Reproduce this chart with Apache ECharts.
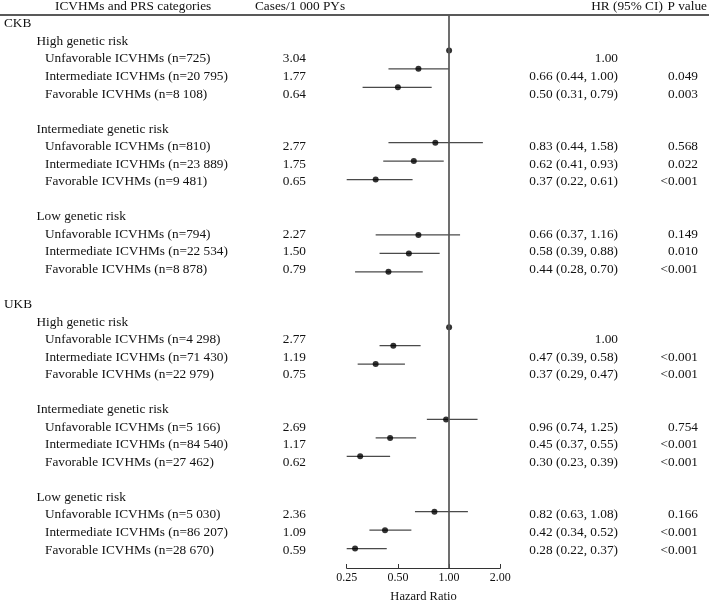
<!DOCTYPE html>
<html>
<head>
<meta charset="utf-8">
<script src="https://cdn.jsdelivr.net/npm/echarts@6/dist/echarts.min.js"></script>
<style>html,body{margin:0;padding:0;background:#fff}#c{width:709px;height:608px}</style>
</head>
<body>
<div id="c"></div>
<script>
const headers = ['ICVHMs and PRS categories', 'Cases/1 000 PYs', 'HR (95% CI)', 'P value'];
const cohorts = ['CKB', 'UKB'];
const riskGroups = ['High genetic risk', 'Intermediate genetic risk', 'Low genetic risk'];
const categories = [
  'Unfavorable ICVHMs (n=725)', 'Intermediate ICVHMs (n=20 795)', 'Favorable ICVHMs (n=8 108)',
  'Unfavorable ICVHMs (n=810)', 'Intermediate ICVHMs (n=23 889)', 'Favorable ICVHMs (n=9 481)',
  'Unfavorable ICVHMs (n=794)', 'Intermediate ICVHMs (n=22 534)', 'Favorable ICVHMs (n=8 878)',
  'Unfavorable ICVHMs (n=4 298)', 'Intermediate ICVHMs (n=71 430)', 'Favorable ICVHMs (n=22 979)',
  'Unfavorable ICVHMs (n=5 166)', 'Intermediate ICVHMs (n=84 540)', 'Favorable ICVHMs (n=27 462)',
  'Unfavorable ICVHMs (n=5 030)', 'Intermediate ICVHMs (n=86 207)', 'Favorable ICVHMs (n=28 670)'
];
const casesPer1000 = ['3.04','1.77','0.64','2.77','1.75','0.65','2.27','1.50','0.79',
                      '2.77','1.19','0.75','2.69','1.17','0.62','2.36','1.09','0.59'];
const hrLabels = ['1.00','0.66 (0.44, 1.00)','0.50 (0.31, 0.79)','0.83 (0.44, 1.58)','0.62 (0.41, 0.93)','0.37 (0.22, 0.61)',
                  '0.66 (0.37, 1.16)','0.58 (0.39, 0.88)','0.44 (0.28, 0.70)','1.00','0.47 (0.39, 0.58)','0.37 (0.29, 0.47)',
                  '0.96 (0.74, 1.25)','0.45 (0.37, 0.55)','0.30 (0.23, 0.39)','0.82 (0.63, 1.08)','0.42 (0.34, 0.52)','0.28 (0.22, 0.37)'];
const pValues = ['','0.049','0.003','0.568','0.022','<0.001','0.149','0.010','<0.001',
                 '','<0.001','<0.001','0.754','<0.001','<0.001','0.166','<0.001','<0.001'];
const hr     = [1.00,0.66,0.50,0.83,0.62,0.37,0.66,0.58,0.44,1.00,0.47,0.37,0.96,0.45,0.30,0.82,0.42,0.28];
const ciLow  = [null,0.44,0.31,0.44,0.41,0.22,0.37,0.39,0.28,null,0.39,0.29,0.74,0.37,0.23,0.63,0.34,0.22];
// upper whisker ends as drawn in the picture
const ciHigh = [null,1.00,0.79,1.58,0.93,0.61,1.16,0.88,0.70,null,0.68,0.55,1.47,0.64,0.45,1.29,0.60,0.43];
const xTicks = [0.25, 0.5, 1, 2];

const FONT = '"Liberation Serif", "Times New Roman", serif';
const FS = 13.3;
const COL = { cohort: 4, group: 36.5, item: 45, cases: 306, hr: 618, p: 698 };

// build text table rows
const texts = [];
function addText(x, k, text, align) { texts.push({ x, k, text, align }); }
addText(55, -1, headers[0], 'left');
addText(255, -1, headers[1], 'left');
addText(627, -1, headers[2], 'center');
addText(707, -1, headers[3], 'right');
const markerRows = [];
cohorts.forEach((c, ci) => {
  const base = ci * 16;
  addText(COL.cohort, base, c, 'left');
  riskGroups.forEach((g, gi) => {
    addText(COL.group, base + 1 + gi * 5, g, 'left');
    for (let i = 0; i < 3; i++) {
      const idx = ci * 9 + gi * 3 + i;
      const k = base + 2 + gi * 5 + i;
      addText(COL.item, k, categories[idx], 'left');
      addText(COL.cases, k, casesPer1000[idx], 'right');
      addText(COL.hr, k, hrLabels[idx], 'right');
      if (pValues[idx]) addText(COL.p, k, pValues[idx], 'right');
      markerRows[idx] = ci * 15 + gi * 5 + i;
    }
  });
});

const X_MIN = xTicks[0], X_MAX = xTicks[xTicks.length - 1];

const chart = echarts.init(document.getElementById('c'), null, { renderer: 'canvas' });
chart.setOption({
  animation: false,
  backgroundColor: '#fff',
  grid: [
    { left: 0, right: 0, top: 15, bottom: 35.3 },
    { left: 346.7, width: 153.6, top: 15, bottom: 35.3 }
  ],
  xAxis: [
    { gridIndex: 0, type: 'value', min: 0, max: 709, position: 'top',
      axisLine: { show: true, onZero: false, lineStyle: { color: '#222', width: 1.5 } },
      axisTick: { show: false }, axisLabel: { show: false }, splitLine: { show: false } },
    { gridIndex: 1, type: 'log', logBase: 2, min: X_MIN, max: X_MAX, position: 'bottom',
      name: 'Hazard Ratio', nameLocation: 'middle', nameGap: 22,
      nameTextStyle: { fontFamily: FONT, fontSize: 12.5, color: '#111' },
      axisLine: { show: true, onZero: false, lineStyle: { color: '#333', width: 1 } },
      axisTick: { show: true, inside: true, length: 4, lineStyle: { color: '#333' } },
      axisLabel: { fontFamily: FONT, fontSize: 12, color: '#111', margin: 4,
        formatter: v => Number(v).toFixed(2) },
      splitLine: { show: false } }
  ],
  yAxis: [
    { gridIndex: 0, type: 'value', inverse: true, min: -0.507, max: 31.29, show: false },
    { gridIndex: 1, type: 'value', inverse: true, min: -1.918, max: 28.05, show: false }
  ],
  series: [
    {
      type: 'custom', xAxisIndex: 0, yAxisIndex: 0, clip: false, silent: true,
      data: texts.map(t => [t.x, t.k]),
      renderItem: function (params, api) {
        const t = texts[params.dataIndex];
        const p = api.coord([api.value(0), api.value(1)]);
        return {
          type: 'text', x: p[0], y: p[1],
          style: { text: t.text, fill: '#111', fontSize: FS, fontFamily: FONT,
                   align: t.align, verticalAlign: 'middle',
                   textAlign: t.align, textVerticalAlign: 'middle' }
        };
      }
    },
    {
      type: 'custom', xAxisIndex: 1, yAxisIndex: 1, clip: false, silent: true,
      data: hr.map((v, i) => [ciLow[i] == null ? NaN : ciLow[i], ciHigh[i] == null ? NaN : ciHigh[i], markerRows[i]]),
      renderItem: function (params, api) {
        const i = params.dataIndex;
        if (ciLow[i] == null) return null;
        const lo = Math.max(ciLow[i], X_MIN), hi = Math.min(ciHigh[i], X_MAX);
        const a = api.coord([lo, markerRows[i]]);
        const b = api.coord([hi, markerRows[i]]);
        return { type: 'line', shape: { x1: a[0], y1: a[1], x2: b[0], y2: b[1] },
                 style: { stroke: '#4a4a4a', lineWidth: 1.3 } };
      },
      z: 2
    },
    {
      type: 'scatter', xAxisIndex: 1, yAxisIndex: 1, silent: true,
      symbol: 'circle', symbolSize: 6,
      itemStyle: { color: '#000' },
      data: hr.map((v, i) => [v, markerRows[i]]),
      markLine: {
        silent: true, symbol: ['none', 'none'], label: { show: false },
        lineStyle: { color: '#555', width: 1.7, type: 'solid' },
        data: [{ xAxis: 1 }]
      },
      z: 3
    }
  ]
});
</script>
</body>
</html>
